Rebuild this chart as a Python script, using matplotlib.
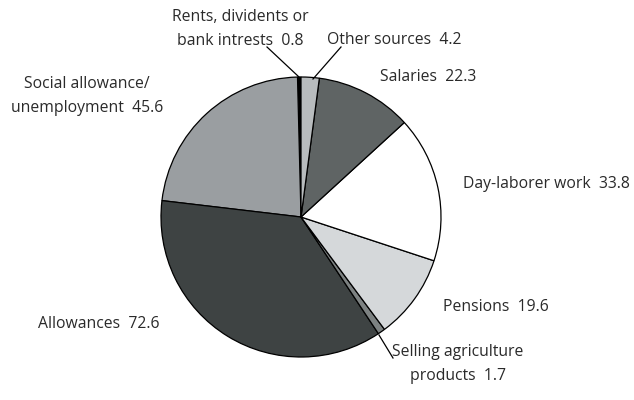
import matplotlib
matplotlib.use("Agg")
import matplotlib.pyplot as plt

# income sources, counterclockwise from the top
sources = ["Rents, dividents or\nbank intrests  0.8", "Social allowance/\nunemployment  45.6",
           "Allowances  72.6", "Selling agriculture\nproducts  1.7", "Pensions  19.6",
           "Day-laborer work  33.8", "Salaries  22.3", "Other sources  4.2"]
values = [0.8, 45.6, 72.6, 1.7, 19.6, 33.8, 22.3, 4.2]
colors = ["#000000", "#9a9ea1", "#3e4343", "#7d8282", "#d5d8da", "#ffffff", "#5f6464", "#b8bcbe"]

# label positions in pixels (x, y from top)
label_pos = [(240, 29, "center"), (87, 96, "center"), (99, 324, "center"), (458, 364, "center"),
             (496, 307, "center"), (546, 184, "center"), (428, 77, "center"), (394, 40, "center")]
leaders = {0: ((267, 47), (299, 77)), 7: ((341, 47), (313, 79)), 3: ((393, 358), (379, 335))}

plt.rcParams['font.family'] = ['Open Sans', 'DejaVu Sans']

fig = plt.figure(figsize=(6.34, 4.0), dpi=100)
ax = fig.add_axes([0, 0, 1, 1])

cx, cy, r = 301, 400 - 217, 140
ax.pie(values, colors=colors, startangle=90, counterclock=True, center=(cx, cy), radius=r,
       wedgeprops=dict(edgecolor='black', linewidth=0.9), frame=True)
ax.set_xlim(0, 634)
ax.set_ylim(0, 400)
ax.set_aspect('equal')
ax.axis('off')

for lab, (x, y, ha) in zip(sources, label_pos):
    ax.text(x, 400 - y, lab, ha=ha, va='center', fontsize=11.3, color='#2a2a2a', linespacing=1.7)

for i, ((x1, y1), (x2, y2)) in leaders.items():
    ax.plot([x1, x2], [400 - y1, 400 - y2], color='black', linewidth=0.9)

fig.savefig("out.png", dpi=100)
